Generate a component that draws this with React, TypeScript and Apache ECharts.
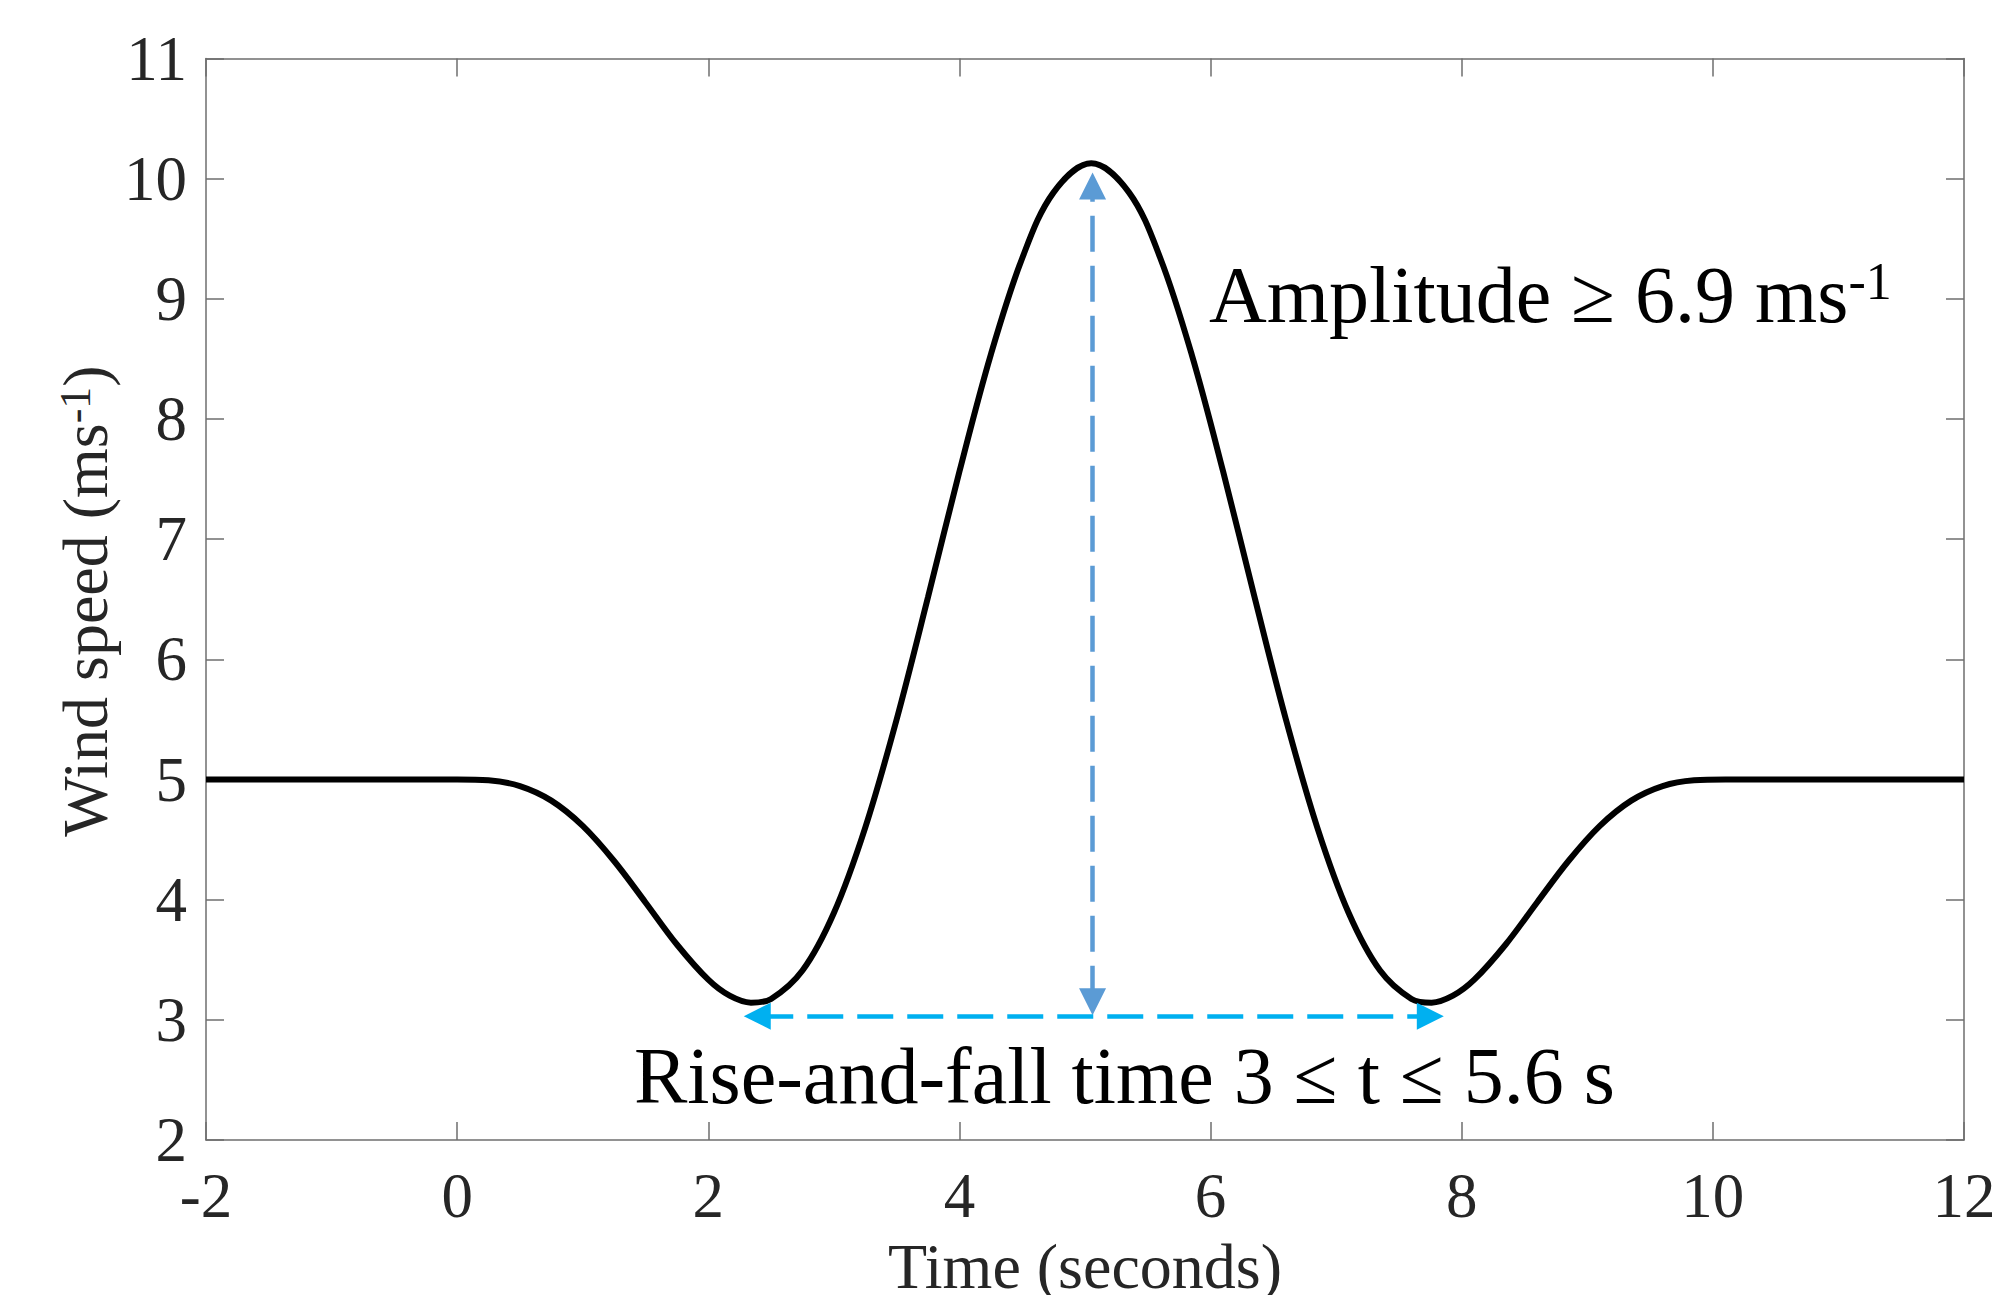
import React, { useEffect, useRef } from "react";
import * as echarts from "echarts";

// Time (s) and wind speed (m/s)
const timeValues = [
  -2, 0, 0.25, 0.5, 0.75, 1.0, 1.25, 1.5, 1.75, 2.0, 2.17, 2.34, 2.5, 2.75, 3.0, 3.25, 3.5, 3.75, 4.0,
  4.25, 4.5, 4.75, 5.05, 5.35, 5.6, 5.85, 6.1, 6.35, 6.6, 6.85, 7.1, 7.35, 7.6, 7.76, 7.93,
  8.1, 8.35, 8.6, 8.85, 9.1, 9.35, 9.6, 9.85, 10.1, 12,
];
const windValues = [
  5, 5, 4.993, 4.945, 4.824, 4.614, 4.322, 3.977, 3.627, 3.334, 3.201, 3.143, 3.174, 3.41, 3.889, 4.6, 5.5, 6.518, 7.563,
  8.536, 9.338, 9.886, 10.128, 9.886, 9.338, 8.536, 7.563, 6.518, 5.5, 4.6, 3.889, 3.41, 3.174, 3.143, 3.201,
  3.334, 3.627, 3.977, 4.322, 4.614, 4.824, 4.945, 4.993, 5, 5,
];

// Annotation arrows: [start, end] in data coordinates (centres of the arrow heads)
const amplitudeArrow = [
  [5.06, 3.15],
  [5.06, 9.94],
];
const durationArrow = [
  [2.39, 3.03],
  [7.75, 3.03],
];

const xTicks = { min: -2, max: 12, interval: 2 };
const yTicks = { min: 2, max: 11, interval: 1 };

const xTitle = "Time (seconds)";
const yTitleMain = "Wind speed (ms";
const amplitudeText = "Amplitude \u2265 6.9 ms";
const durationText = "Rise-and-fall time 3 \u2264 t \u2264 5.6 s";

const FONT = "'Liberation Serif', 'Times New Roman', serif";
const AXIS_COLOR = "#6e6e6e";
const LABEL_COLOR = "#262626";

export default function App() {
  const ref = useRef<HTMLDivElement>(null);

  useEffect(() => {
    if (!ref.current) return;
    const chart = echarts.init(ref.current, undefined, { renderer: "svg" });

    const axisLine = { show: true, onZero: false, lineStyle: { color: AXIS_COLOR, width: 1.5 } };
    const axisTick = { show: true, inside: true, length: 18, lineStyle: { color: AXIS_COLOR, width: 1.5 } };

    const series: any[] = [
      {
        type: "line",
        data: timeValues.map((t, i) => [t, windValues[i]]),
        showSymbol: false,
        symbol: "none",
        smooth: 0.35,
        lineStyle: { color: "#000000", width: 6 },
        z: 3,
        markLine: {
          silent: true,
          symbol: ["triangle", "triangle"],
          symbolSize: [27, 27],
          label: { show: false },
          lineStyle: { type: [36, 14], width: 4.5 },
          data: [
            [
              { coord: amplitudeArrow[0], lineStyle: { color: "#5B9BD5" }, itemStyle: { color: "#5B9BD5" } },
              { coord: amplitudeArrow[1] },
            ],
            [
              { coord: durationArrow[0], lineStyle: { color: "#00B0F0" }, itemStyle: { color: "#00B0F0" } },
              { coord: durationArrow[1] },
            ],
          ],
        },
      },
    ];

    chart.setOption({
      animation: false,
      backgroundColor: "#ffffff",
      grid: {
        left: 206,
        right: 28,
        top: 58.5,
        bottom: 155,
        containLabel: false,
        outerBoundsMode: "none",
      },
      xAxis: [
        {
          type: "value",
          position: "bottom",
          ...xTicks,
          axisLine,
          axisTick,
          splitLine: { show: false },
          axisLabel: { fontFamily: FONT, fontSize: 63, color: LABEL_COLOR, margin: 24 },
          name: xTitle,
          nameLocation: "middle",
          nameGap: 94,
          nameTextStyle: { fontFamily: FONT, fontSize: 64, color: LABEL_COLOR },
        },
        {
          type: "value",
          position: "top",
          ...xTicks,
          axisLine,
          axisTick,
          splitLine: { show: false },
          axisLabel: { show: false },
        },
      ],
      yAxis: [
        {
          type: "value",
          position: "left",
          ...yTicks,
          axisLine,
          axisTick,
          splitLine: { show: false },
          axisLabel: { fontFamily: FONT, fontSize: 63, color: LABEL_COLOR, margin: 19 },
        },
        {
          type: "value",
          position: "right",
          ...yTicks,
          axisLine,
          axisTick,
          splitLine: { show: false },
          axisLabel: { show: false },
        },
      ],
      graphic: [
        {
          type: "text",
          x: 85,
          y: 601,
          rotation: Math.PI / 2,
          style: {
            text: `{a|${yTitleMain}}{s|-1}{a|)}`,
            align: "center",
            verticalAlign: "middle",
            rich: {
              a: { fontFamily: FONT, fontSize: 64, lineHeight: 64, fill: LABEL_COLOR },
              s: { fontFamily: FONT, fontSize: 44, lineHeight: 26, verticalAlign: "top", fill: LABEL_COLOR },
            },
          },
        },
        {
          type: "text",
          x: 1209,
          y: 295,
          style: {
            text: `{a|${amplitudeText}}{s|-1}`,
            align: "left",
            verticalAlign: "middle",
            rich: {
              a: { fontFamily: FONT, fontSize: 80, lineHeight: 80, fill: "#000000" },
              s: { fontFamily: FONT, fontSize: 52, lineHeight: 36, verticalAlign: "top", fill: "#000000" },
            },
          },
        },
        {
          type: "text",
          x: 634,
          y: 1076,
          style: {
            text: durationText,
            align: "left",
            verticalAlign: "middle",
            fontFamily: FONT,
            fontSize: 80,
            fill: "#000000",
          },
        },
      ],
      series,
    });

    return () => chart.dispose();
  }, []);

  return (
    <div
      ref={ref}
      style={{ position: "fixed", left: 0, top: 0, width: 1992, height: 1295, background: "#fff" }}
    />
  );
}
